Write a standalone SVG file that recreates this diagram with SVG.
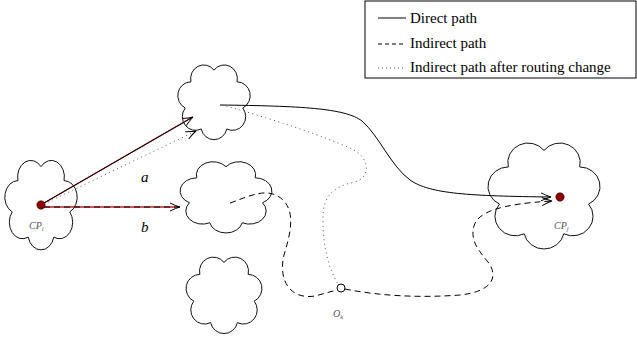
<svg xmlns="http://www.w3.org/2000/svg" xmlns:xlink="http://www.w3.org/1999/xlink" width="637" height="339" viewBox="0 0 637 339">
<style>
.cloud{fill:white;stroke:#111;stroke-width:1;vector-effect:non-scaling-stroke}
.solid{fill:none;stroke:#000;stroke-width:1}
.dash{fill:none;stroke:#000;stroke-width:1;stroke-dasharray:6 4}
.dot{fill:none;stroke:#555;stroke-width:1;stroke-dasharray:1 3.5}
.red{fill:none;stroke:#c02020;stroke-width:1.4}
.leg{font-family:"Liberation Serif","Times New Roman","DejaVu Serif",serif;font-size:15px;fill:#000}
.lab{font-family:"Liberation Serif","Times New Roman","DejaVu Serif",serif;font-style:italic;fill:#000;font-size:15px}
.small{font-family:"Liberation Serif","Times New Roman","DejaVu Serif",serif;font-style:italic;fill:#555;font-size:10px}
.cp{fill:#8b0000;stroke:#400;stroke-width:0.6}
</style>
<defs>
<path id="cloudshape" class="cloud" d="M0,-36 A16,16 0 0 1 28.1,-22.4 A16,16 0 0 1 35.1,8 A16,16 0 0 1 15.6,32.4 A16,16 0 0 1 -15.6,32.4 A16,16 0 0 1 -35.1,8 A16,16 0 0 1 -28.1,-22.4 A16,16 0 0 1 0,-36 Z"/>
<marker id="to" viewBox="-11 -5 12 10" markerWidth="12" markerHeight="10" refX="0" refY="0" orient="auto" markerUnits="userSpaceOnUse" overflow="visible">
<path d="M -10,-4 Q -4,-1 0,0 Q -4,1 -10,4" fill="none" stroke="#000" stroke-width="1" stroke-dasharray="none"/>
</marker>
</defs>
<rect width="637" height="339" fill="white"/>

<g id="legend">
<rect x="365" y="1" width="271" height="77" fill="white" stroke="#000" stroke-width="1"/>
<line class="solid" x1="378" y1="18" x2="406" y2="18"/>
<line x1="378" y1="44" x2="406" y2="44" fill="none" stroke="#000" stroke-width="1" stroke-dasharray="4 3"/>
<line x1="378" y1="68" x2="406" y2="68" fill="none" stroke="#555" stroke-width="1" stroke-dasharray="1 3"/>
<text class="leg" x="410" y="23">Direct path</text>
<text class="leg" x="410" y="48">Indirect path</text>
<text class="leg" x="410" y="72">Indirect path after routing change</text>
</g>

<g id="cloud-cpi"><use xlink:href="#cloudshape" transform="translate(41,203.7) scale(0.82,1.03)"/></g>
<g id="cloud-a"><use xlink:href="#cloudshape" transform="translate(214,101.1) scale(0.82,0.86)"/></g>
<g id="cloud-b"><use xlink:href="#cloudshape" transform="translate(226,196.2) scale(1.04,0.82)"/></g>
<g id="cloud-bottom"><use xlink:href="#cloudshape" transform="translate(224,294.1) scale(0.86,0.88)"/></g>
<g id="cloud-cpj"><use xlink:href="#cloudshape" transform="translate(544,194.3) scale(1.27,1.22)"/></g>

<g id="connectors">
<line class="red" x1="44" y1="203" x2="191" y2="118"/>
<line class="solid" x1="44" y1="203" x2="193" y2="117" marker-end="url(#to)"/>
<line class="dot" x1="44" y1="204" x2="196" y2="131" marker-end="url(#to)"/>
<line class="red" x1="44" y1="207" x2="178" y2="207"/>
<line class="dash" x1="44" y1="207" x2="180" y2="207" marker-end="url(#to)"/>
<path class="solid" d="M 220,105 C 300,106 345,108 362,121 C 380,137 390,165 410,180 C 430,194 470,196 551,197" marker-end="url(#to)"/>
<path class="dot" d="M 222,105 C 270,118 320,135 350,148 C 372,158 370,178 355,182 C 335,186 322,195 323,220 C 323,245 328,268 338,284"/>
<path class="dash" d="M 230,203 C 250,196 268,186 283,200 C 296,213 290,235 284,255 C 278,280 290,300 315,296 L 337,290"/>
<path class="dash" d="M 345,289 C 380,296 420,298 460,295 C 490,292 500,278 488,262 C 478,250 470,240 474,226 C 478,212 500,204 552,201" marker-end="url(#to)"/>
</g>

<g id="cpi">
<circle class="cp" cx="41" cy="205" r="4.2"/>
<text class="small" x="29" y="229">CP<tspan font-size="6.5" dy="1.5">i</tspan></text>
</g>
<g id="cpj">
<circle class="cp" cx="560" cy="197" r="4.2"/>
<text class="small" x="554" y="229">CP<tspan font-size="6.5" dy="1.5">j</tspan></text>
</g>
<g id="ok">
<circle cx="341" cy="288" r="4" fill="white" stroke="#000" stroke-width="1"/>
<text class="small" x="333" y="317">O<tspan font-size="6.5" dy="1.5">k</tspan></text>
</g>
<g id="labels">
<text class="lab" x="141" y="182">a</text>
<text class="lab" x="141" y="232">b</text>
</g>
</svg>
